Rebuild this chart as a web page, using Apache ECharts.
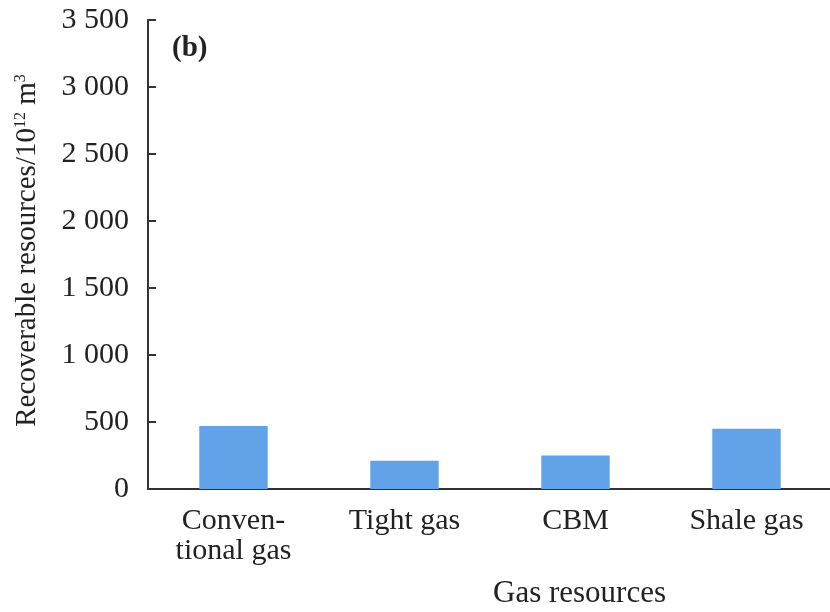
<!DOCTYPE html>
<html>
<head>
<meta charset="utf-8">
<script src="https://cdn.jsdelivr.net/npm/echarts@6/dist/echarts.min.js"></script>
<style>
  html, body { margin: 0; padding: 0; background: #fff; }
  #chart { width: 830px; height: 612px; }
</style>
</head>
<body>
<div id="chart"></div>
<script>
// Recoverable gas resources by type
const categories = ['Conven-\ntional gas', 'Tight gas', 'CBM', 'Shale gas'];
const recoverable = [470, 210, 250, 450];
const yTicks = [0, 500, 1000, 1500, 2000, 2500, 3000, 3500];

const serif = '"Liberation Serif", "DejaVu Serif", serif';
const ink = '#222';

// thousands separated by a space, e.g. 3 500
function spaced(v) {
  return String(v).replace(/\B(?=(\d{3})+(?!\d))/g, ' ');
}

const chart = echarts.init(document.getElementById('chart'));
chart.setOption({
  animation: false,
  backgroundColor: '#fff',
  grid: {
    left: 148, top: 20, width: 684, bottom: 123,
    containLabel: false, outerBoundsMode: 'none'
  },
  xAxis: {
    type: 'category',
    data: categories,
    axisLine: { lineStyle: { color: '#333', width: 2 } },
    axisTick: { inside: true, length: 9, lineStyle: { color: '#333', width: 2 } },
    axisLabel: {
      color: ink, fontFamily: serif, fontSize: 30, margin: 17, lineHeight: 30
    }
  },
  yAxis: {
    type: 'value',
    min: yTicks[0],
    max: yTicks[yTicks.length - 1],
    interval: 500,
    name: '{a|Recoverable resources/10}{s|12}{a| m}{s|3}',
    nameLocation: 'middle',
    nameRotate: 90,
    nameGap: 106,
    nameTextStyle: {
      padding: [0, 0, 0, 8],
      rich: {
        a: { fontFamily: serif, fontSize: 29, color: ink },
        s: { fontFamily: serif, fontSize: 16, color: ink, verticalAlign: 'top', padding: [0, 0, 12, 0] }
      }
    },
    splitLine: { show: false },
    axisLine: { show: true, lineStyle: { color: '#333', width: 2 } },
    axisTick: { show: true, inside: true, length: 8, lineStyle: { color: '#333', width: 2 } },
    axisLabel: {
      color: ink, fontFamily: serif, fontSize: 30, margin: 19,
      formatter: spaced
    }
  },
  series: [{
    type: 'bar',
    data: recoverable,
    barWidth: '40%',
    itemStyle: { color: '#62a2e8' }
  }],
  graphic: [
    {
      type: 'text', left: 172, top: 34,
      style: { text: '(b)', font: 'bold 29px ' + serif, fill: ink }
    },
    {
      type: 'text', left: 493, top: 578,
      style: { text: 'Gas resources', font: '31px ' + serif, fill: ink }
    }
  ]
});
</script>
</body>
</html>
